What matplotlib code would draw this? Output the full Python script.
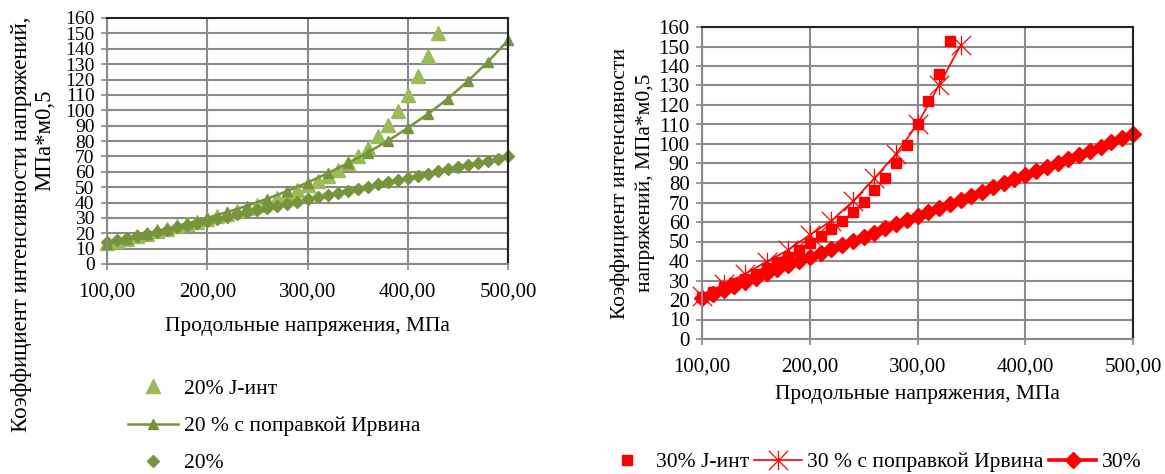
import matplotlib
matplotlib.use('Agg')

import matplotlib.pyplot as plt
from matplotlib import font_manager
from matplotlib.path import Path
from matplotlib.ticker import FuncFormatter

# pick a Times-like serif that is really installed
installed = {f.name for f in font_manager.fontManager.ttflist}
serif = [n for n in ['Liberation Serif', 'Times New Roman', 'Nimbus Roman',
                     'Tinos', 'DejaVu Serif', 'Noto Serif'] if n in installed]
plt.rcParams['font.family'] = serif + ['DejaVu Sans']

# ----------------------------
# data
# ----------------------------
# left chart, 20 %
x20_j = list(range(100, 440, 10))
k20_j = [13.5, 15.0, 16.5, 18.0, 19.6, 21.2, 22.8, 24.4, 26.0, 27.6,
         29.3, 31.0, 32.8, 34.6, 36.5, 38.4, 40.5, 42.8, 45.3, 48.0,
         51.2, 54.2, 57.2, 61.0, 65.5, 70.0, 75.7, 83.0, 90.5, 99.5,
         110.0, 122.0, 135.5, 150.0]

x20_irw = list(range(100, 520, 20))
k20_irw = [13.3, 16.4, 19.7, 23.0, 26.5, 30.0, 33.8, 38.0, 42.5, 47.5,
           53.0, 59.0, 65.5, 72.5, 80.0, 88.5, 97.5, 107.5, 119.0, 131.5,
           145.5]

x20 = list(range(100, 510, 10))
k20 = [14.0, 15.4, 16.8, 18.2, 19.6, 21.0, 22.4, 23.8, 25.2, 26.6,
       28.0, 29.4, 30.8, 32.2, 33.6, 35.0, 36.4, 37.8, 39.2, 40.6,
       42.0, 43.4, 44.8, 46.2, 47.6, 49.0, 50.4, 51.8, 53.2, 54.6,
       56.0, 57.4, 58.8, 60.2, 61.6, 63.0, 64.4, 65.8, 67.2, 68.6,
       70.0]

# right chart, 30 %
x30_j = list(range(100, 340, 10))
k30_j = [21.5, 24.0, 26.5, 28.8, 31.0, 33.5, 36.5, 39.5, 42.3, 45.4,
         49.0, 52.7, 56.3, 60.4, 65.0, 70.1, 76.2, 82.7, 90.4, 99.3,
         110.0, 122.0, 136.0, 153.0]

x30_irw = list(range(100, 360, 20))
k30_irw = [21.8, 28.1, 33.4, 39.7, 45.7, 53.4, 60.6, 70.6, 82.4, 94.9,
           110.2, 130.2, 150.6]

x30 = list(range(100, 510, 10))
k30 = [21.0, 23.1, 25.2, 27.3, 29.4, 31.5, 33.6, 35.7, 37.8, 39.9,
       42.0, 44.1, 46.2, 48.3, 50.4, 52.5, 54.6, 56.7, 58.8, 60.9,
       63.0, 65.1, 67.2, 69.3, 71.4, 73.5, 75.6, 77.7, 79.8, 81.9,
       84.0, 86.1, 88.2, 90.3, 92.4, 94.5, 96.6, 98.7, 100.8, 102.9,
       105.0]

x_ticks = [100, 200, 300, 400, 500]
y_ticks = list(range(0, 170, 10))

FS = 15        # tick labels
FS_T = 15.5    # titles and legends
GRID = '#8a8a8a'
LIGHT_GREEN = '#9bbb59'
DARK_GREEN = '#77933c'
RED = '#ff0000'

# Excel-like star marker: X with a vertical bar
STAR = Path([(-1, -1), (1, 1), (-1, 1), (1, -1), (0, -1), (0, 1)],
            [Path.MOVETO, Path.LINETO, Path.MOVETO, Path.LINETO,
             Path.MOVETO, Path.LINETO])

W, H = 1165, 474
fig = plt.figure(figsize=(W / 100, H / 100), dpi=100)

ax1 = fig.add_axes([107 / W, 1 - 264 / H, (508 - 107) / W, (264 - 18) / H])
ax2 = fig.add_axes([702 / W, 1 - 339 / H, (1133 - 702) / W, (339 - 27) / H])


def style_axes(ax, ytick_fs):
    ax.set_xlim(100, 500)
    ax.set_ylim(0, 160)
    ax.set_xticks(x_ticks)
    ax.set_yticks(y_ticks)
    ax.xaxis.set_major_formatter(FuncFormatter(lambda v, p: f"{v:.2f}".replace('.', ',')))
    ax.grid(True, color=GRID, linewidth=1.5)
    ax.set_axisbelow(True)
    for s in ('left', 'bottom'):
        ax.spines[s].set_color(GRID)
        ax.spines[s].set_linewidth(1.5)
    for s in ('top', 'right'):
        ax.spines[s].set_color('#222222')
        ax.spines[s].set_linewidth(1.5)
    ax.tick_params(axis='both', direction='out', length=4, width=1.2,
                   color=GRID, labelsize=FS, pad=5)
    ax.tick_params(axis='y', labelsize=ytick_fs)
    ax.tick_params(axis='x', pad=9)


# --- left chart ---
ax1.plot(x20_j, k20_j, linestyle='none', marker='^', markersize=10,
         color=LIGHT_GREEN, clip_on=False, label='20% J-инт')
ax1.plot(x20_irw, k20_irw, '-', linewidth=1.8, marker='^', markersize=6.5,
         color=DARK_GREEN, clip_on=False, label='20 % с поправкой Ирвина')
ax1.plot(x20, k20, linestyle='none', marker='D', markersize=6.5,
         color=DARK_GREEN, clip_on=False, label='20%')
style_axes(ax1, 14)

# --- right chart ---
ax2.plot(x30_j, k30_j, linestyle='none', marker='s', markersize=6.5,
         color=RED, clip_on=False, label='30% J-инт')
ax2.plot(x30_irw, k30_irw, '-', linewidth=1.2, marker=STAR, markersize=14,
         markeredgewidth=0.9, markerfacecolor='none', color=RED,
         clip_on=False, label='30 % с поправкой Ирвина')
ax2.plot(x30, k30, '-', linewidth=2.6, marker='D', markersize=8,
         color=RED, clip_on=False, label='30%')
style_axes(ax2, FS)

# axis titles
fig.text(22 / W, 1 - 224 / H, 'Коэффициент интенсивности напряжений,',
         rotation=90, ha='center', va='center', fontsize=16.5)
fig.text(45 / W, 1 - 140 / H, 'МПа*м0,5',
         rotation=90, ha='center', va='center', fontsize=16.5)
fig.text(307 / W, 1 - 327 / H, 'Продольные напряжения, МПа',
         ha='center', va='center', fontsize=FS_T)

fig.text(620 / W, 1 - 183 / H, 'Коэффициент интенсивности',
         rotation=90, ha='center', va='center', fontsize=FS_T)
fig.text(645 / W, 1 - 183 / H, 'напряжений, МПа*м0,5',
         rotation=90, ha='center', va='center', fontsize=FS_T)
fig.text(917 / W, 1 - 395 / H, 'Продольные напряжения, МПа',
         ha='center', va='center', fontsize=FS_T)

# legends
h1, l1 = ax1.get_legend_handles_labels()
fig.legend(h1, l1, loc='center left', bbox_to_anchor=(128 / W, 1 - 426 / H),
           frameon=False, fontsize=FS_T, numpoints=1, handlelength=2.3,
           handletextpad=0.3, labelspacing=0.8, borderpad=0, borderaxespad=0)

h2, l2 = ax2.get_legend_handles_labels()
fig.legend(h2, l2, loc='center left', bbox_to_anchor=(603 / W, 1 - 462 / H),
           ncol=3, frameon=False, fontsize=FS_T, numpoints=1, handlelength=2.2,
           handletextpad=0.25, columnspacing=0.25, borderpad=0, borderaxespad=0)

fig.savefig('out.png', dpi=100)
